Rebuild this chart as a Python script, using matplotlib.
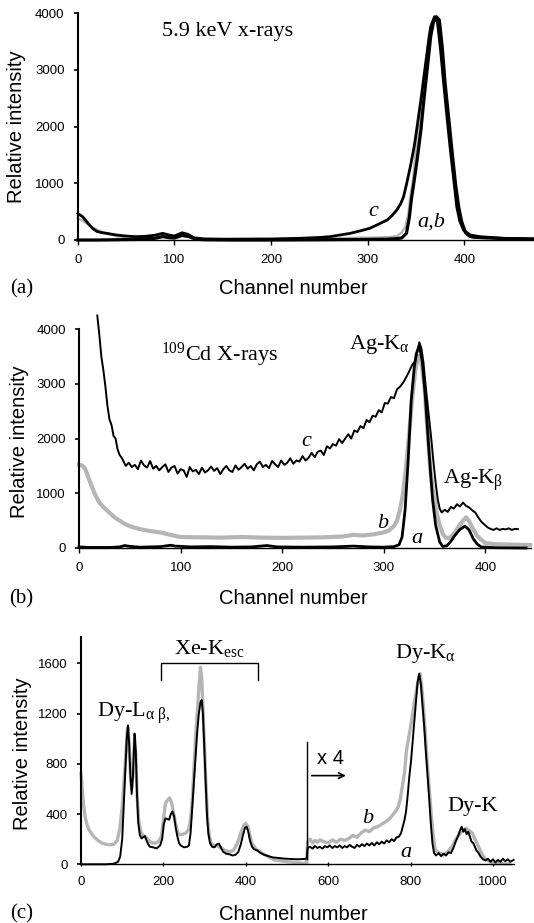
import matplotlib
matplotlib.use('Agg')
from matplotlib import pyplot as plt

plt.rcParams['font.family'] = ['Liberation Sans', 'DejaVu Sans']
plt.rcParams['mathtext.fontset'] = 'custom'
plt.rcParams['mathtext.rm'] = 'Liberation Serif'
# greek letters in the labels are upright in the original
plt.rcParams['mathtext.it'] = 'Liberation Serif'

SERIF = ['Liberation Serif', 'DejaVu Serif']
GREY = '#b5b5b5'

# ---- panel (a): 5.9 keV x-rays ----
a1_ch = [0, 20, 40, 60, 80, 88, 95, 100, 108, 115, 122, 130, 160, 200, 250, 300, 320, 330, 335, 340, 343, 345,
         348, 351, 355, 358, 362, 365, 368, 371, 374, 377, 380, 384, 387, 391, 394, 397, 401, 405, 409, 420, 440, 472]
a1_val = [0, 0, 5, 10, 30, 60, 40, 35, 80, 60, 15, 5, 0, 0, 5, 10, 15, 25, 35, 118, 400, 705,
          1050, 1411, 1950, 2470, 3100, 3585, 3850, 3940, 3880, 3400, 2760, 2100, 1587, 950, 587, 330, 130, 70, 50, 40, 25, 15]
b1_ch = [0, 5, 10, 15, 20, 30, 40, 50, 60, 75, 88, 95, 100, 108, 115, 122, 135, 180, 230, 260, 290, 310, 322, 330,
         335, 339, 342, 344, 347, 349, 352, 356, 360, 363, 366, 369, 372, 375, 378, 382, 385, 389, 392, 395, 399,
         403, 410, 430, 472]
b1_val = [385, 340, 280, 225, 180, 110, 70, 50, 45, 50, 85, 60, 60, 100, 75, 30, 15, 15, 20, 30, 40, 45, 50, 70,
          130, 240, 480, 764, 1100, 1470, 1900, 2470, 3050, 3585, 3820, 3900, 3860, 3500, 2900, 2250, 1750, 1050, 650, 380, 170,
          90, 55, 40, 20]
c1_ch = [0, 5, 10, 15, 20, 25, 30, 40, 50, 60, 70, 80, 88, 94, 100, 108, 114, 120, 130, 150, 200, 230, 250, 261,
         270, 282, 292, 302, 310, 320, 325, 330, 334, 337, 340, 344, 348, 351, 355, 358, 362, 365, 369, 372, 375,
         378.5, 382, 385.4, 389, 392, 395, 399, 406, 416, 440, 472]
c1_val = [470, 412, 310, 210, 150, 130, 118, 88, 70, 59, 65, 85, 118, 90, 70, 128, 100, 40, 20, 15, 18, 30, 45, 59,
          85, 118, 160, 206, 270, 353, 430, 529, 640, 764, 980, 1293, 1650, 2000, 2480, 2880, 3400, 3760, 3940, 3850, 3400,
          2760, 2150, 1587, 1050, 587, 340, 176, 88, 59, 30, 20]

# ---- panel (b): 109Cd X-rays ----
a2_ch = [0, 10, 30, 40, 45, 50, 60, 80, 90, 95, 110, 130, 150, 170, 185, 195, 220, 250, 270, 285, 300, 310, 315,
         318, 321, 324, 327, 330, 332, 335, 338, 341, 344, 348, 351, 355, 358, 362, 366, 370, 375, 380, 384, 388,
         392, 396, 410, 440]
a2_val = [20, 10, 10, 20, 45, 30, 15, 25, 50, 35, 20, 25, 15, 20, 45, 20, 15, 20, 35, 20, 15, 25, 60,
          200, 700, 1600, 2700, 3300, 3550, 3700, 3400, 2750, 1900, 890, 420, 110, 30, 40, 120, 230, 340, 400, 330, 170,
          70, 20, 5, 0]
b2_ch = [0, 3, 6, 10, 15, 20, 25, 30, 35, 40, 45, 50, 55, 60, 70, 80, 90, 100, 120, 140, 160, 180, 200, 220, 240,
         260, 270, 280, 290, 300, 305, 310, 313, 316, 319, 322, 325, 328, 331, 334, 337, 340, 343, 346, 349, 352,
         355, 358, 361, 364, 367, 370, 374, 378, 381, 384, 388, 392, 395, 400, 410, 420, 430, 444]
b2_val = [1520, 1510, 1450, 1250, 1010, 830, 730, 645, 560, 500, 440, 400, 370, 345, 310, 285, 240, 200, 195, 190,
          200, 190, 185, 190, 195, 210, 240, 230, 250, 285, 320, 400, 500, 700, 1000, 1500, 2100, 2750, 3250, 3510,
          3400, 2960, 2150, 1400, 950, 640, 420, 260, 190, 180, 220, 285, 400, 500, 560, 490, 345, 220, 165, 90, 70,
          65, 60, 55]
c2_ch = [18, 20, 22, 24, 26, 28, 30, 32, 34, 36, 38, 40, 42, 44, 46,
         49, 52, 55, 58, 61, 64, 67, 70, 73, 76, 79, 82, 85, 88, 91, 94, 97, 100, 103, 106, 109, 112, 115, 118,
         121, 124, 127, 130, 133, 136, 139, 142, 145, 148, 151, 154, 157, 160, 163, 166, 169, 172, 175, 178, 181,
         184, 187, 190, 193, 196, 199, 202, 205, 208, 211, 214, 217, 220, 223, 226, 229, 232, 235, 238, 241, 244,
         247, 250, 253, 256, 259, 262, 265, 268, 271, 274, 277, 280, 283, 286, 289, 292, 295, 298, 301, 304, 307,
         310, 313, 316, 319, 322, 325, 328, 331, 333, 335, 337, 339, 341, 343, 345, 347, 349, 351, 353, 355, 357,
         360, 363, 366, 369, 372, 375, 378, 381, 384, 387, 390, 393, 396, 399, 402, 405, 408, 411, 414, 417, 420,
         423, 426, 429, 432]
c2_val = [4250, 3900, 3500, 3250, 2950, 2600, 2350, 2250, 2050, 2000, 1800, 1700, 1650, 1580, 1500,
          1560, 1480, 1520, 1440, 1600, 1510, 1470, 1590, 1450, 1500, 1420, 1480, 1530, 1390, 1470, 1500, 1360,
          1440, 1420, 1300, 1480, 1400, 1430, 1350, 1470, 1380, 1420, 1490, 1410, 1460, 1350, 1440, 1500, 1420,
          1390, 1510, 1430, 1480, 1540, 1450, 1500, 1420, 1530, 1580, 1480, 1520, 1460, 1590, 1530, 1480, 1600,
          1520, 1560, 1640, 1540, 1600, 1580, 1680, 1600, 1650, 1740, 1660, 1760, 1780, 1700, 1860, 1820, 1900,
          1870, 1990, 1920, 2000, 2080, 2000, 2150, 2120, 2230, 2190, 2340, 2300, 2420, 2400, 2520, 2480, 2650,
          2640, 2760, 2740, 2900, 2950, 3020, 3120, 3230, 3350, 3420, 3600, 3760, 3650, 3400, 3000, 2650, 2300,
          1950, 1550, 1200, 900, 720, 650, 700, 660, 750, 720, 800, 760, 830, 770, 740, 690, 650, 560, 480, 430,
          380, 350, 330, 360, 330, 350, 340, 360, 330, 350, 345]

# ---- panel (c): Dy ----
a3_ch = [0, 60, 80, 90, 95, 100, 104, 108, 111, 114, 117, 120, 123, 126, 130, 133, 136, 139, 143, 147, 151, 155,
         159, 163, 167, 175, 184, 192, 197, 201, 205, 210, 214, 218, 222, 226, 230, 234, 238, 242, 250, 258, 262,
         266, 270, 274, 278, 282, 286, 290, 293, 296, 299, 303, 306, 309, 313, 318, 324, 330, 335, 340, 345, 352,
         360, 368, 375, 382, 388, 393, 398, 402, 406, 410, 415, 420, 428, 436, 445, 455, 465, 480, 495, 510, 525,
         540, 548, 550, 556, 562, 568, 574, 580, 586, 592, 598, 604, 610, 616, 622, 628, 634, 640, 646, 652, 658,
         664, 670, 676, 682, 688, 694, 700, 706, 712, 718, 724, 730, 736, 742, 748, 754, 760, 766, 772, 777, 781,
         785, 789, 793, 797, 801, 805, 809, 813, 817, 821, 825, 829, 833, 837, 841, 845, 849, 853, 857, 862, 868,
         874, 880, 886, 892, 898, 904, 910, 916, 920, 924, 928, 932, 936, 940, 944, 948, 952, 956, 960, 965, 970,
         976, 982, 988, 994, 1000, 1006, 1012, 1018, 1024, 1030, 1036, 1042, 1050]
a3_val = [0, 0, 5, 20, 60, 200, 480, 775, 1000, 1106, 950, 700, 560, 700, 1040, 900, 550, 330, 230, 206, 215, 225,
          190, 160, 140, 135, 127, 150, 200, 320, 365, 360, 355, 400, 420, 380, 290, 220, 170, 150, 135, 140, 150,
          250, 450, 650, 850, 1050, 1200, 1290, 1308, 1200, 950, 600, 380, 250, 170, 140, 135, 160, 165, 130, 100,
          85, 80, 70, 75, 100, 160, 230, 290, 300, 260, 190, 140, 120, 110, 90, 75, 65, 55, 50, 45, 42, 40,
          42, 45, 130, 140, 125, 145, 130, 140, 125, 145, 135, 150, 130, 145, 135, 150, 130, 145, 135, 155, 140,
          130, 155, 140, 160, 145, 165, 150, 170, 150, 175, 160, 180, 165, 190, 175, 200, 185, 215, 220, 250, 300,
          350, 420, 550, 700, 820, 980, 1150, 1300, 1450, 1516, 1430, 1270, 1100, 900, 720, 530, 330, 170, 90, 70, 90,
          65, 85, 70, 95, 90, 130, 185, 230, 270, 300, 260, 280, 240, 260, 220, 180, 170, 140, 110, 90, 60,
          40, 30, 45, 20, 40, 15, 35, 20, 45, 25, 40, 20, 35]
b3_ch = [0, 3, 6, 10, 15, 20, 30, 40, 50, 60, 70, 80, 88, 94, 100, 104, 108, 112, 114, 117, 120, 123, 126, 130,
         133, 136, 140, 145, 150, 156, 162, 170, 180, 188, 195, 200, 205, 210, 215, 220, 225, 230, 235, 240, 248,
         255, 262, 266, 270, 274, 278, 282, 286, 290, 293, 296, 299, 303, 307, 311, 316, 322, 330, 340, 350, 360,
         370, 380, 388, 395, 400, 405, 410, 415, 425, 440, 455, 470, 485, 500, 520, 540, 548, 550, 556, 562, 568,
         574, 580, 590, 600, 610, 620, 630, 640, 650, 660, 670, 680, 690, 700, 710, 720, 730, 740, 750, 758, 765,
         770, 775, 780, 785, 790, 795, 800, 805, 810, 815, 820, 823, 826, 830, 835, 840, 845, 850, 855, 860, 870,
         880, 890, 900, 910, 920, 928, 935, 942, 950, 958, 965, 972, 980, 990, 1000, 1020, 1040]
b3_val = [722, 600, 480, 378, 310, 272, 225, 193, 170, 160, 155, 160, 190, 280, 458, 650, 828, 1050, 1093, 950, 720,
          600, 720, 1000, 870, 560, 350, 260, 230, 220, 200, 175, 167, 180, 220, 350, 484, 510, 530, 490, 405, 320,
          250, 235, 240, 250, 280, 360, 500, 750, 1000, 1200, 1400, 1569, 1480, 1250, 1000, 650, 380, 230, 167, 150,
          150, 130, 110, 100, 110, 170, 250, 310, 325, 300, 230, 167, 120, 87, 60, 34, 28, 21, 14, 8, 10, 180, 200,
          170, 190, 175, 195, 180, 170, 195, 175, 200, 190, 206, 230, 215, 250, 272, 260, 290, 299, 320, 340, 365,
          400, 430, 458, 520, 620, 722, 907, 1000, 1093, 1200, 1304, 1400, 1489, 1520, 1450, 1304, 1080, 828, 620,
          405, 230, 114, 90, 74, 100, 140, 200, 246, 275, 286, 270, 246, 190, 140, 90, 48, 25, 8, 5, 3]

x_ticks_ab = [0, 100, 200, 300, 400]
y_ticks_ab = [0, 1000, 2000, 3000, 4000]
x_ticks_c = [0, 200, 400, 600, 800, 1000]
y_ticks_c = [0, 400, 800, 1200, 1600]

W, H = 534, 923


def box(left, right, bottom, top):
	# pixel box -> figure fraction
	return [left / W, 1 - bottom / H, (right - left) / W, (bottom - top) / H]


def style_axis(ax, xlim, ylim, xticks, yticks, xdir='out'):
	ax.set_xlim(*xlim)
	ax.set_ylim(*ylim)
	ax.set_xticks(xticks)
	ax.set_yticks(yticks)
	for side in ['top', 'right']:
		ax.spines[side].set_visible(False)
	ax.spines['left'].set_linewidth(1.5)
	ax.spines['bottom'].set_linewidth(1.0)
	ax.spines['left'].set_bounds(yticks[0], yticks[-1])
	ax.tick_params(axis='y', direction='out', length=3, width=1.2, pad=6.5, labelsize=9.5)
	ax.tick_params(axis='x', direction=xdir, length=3.5, width=1.0, pad=6.5, labelsize=9.5)
	ax.patch.set_alpha(0)


fig = plt.figure(figsize=(5.34, 9.23), dpi=100)

# (a)
ax1 = fig.add_axes(box(77.7, 534.1, 240, 13.3))
ax1.plot(b1_ch, b1_val, color=GREY, lw=1.7, clip_on=False)
ax1.plot(a1_ch, a1_val, color='black', lw=2.3, clip_on=False)
ax1.plot(c1_ch, c1_val, color='black', lw=2.0, clip_on=False)
style_axis(ax1, (0, 472), (0, 4000), x_ticks_ab, y_ticks_ab)
ax1.text(155, 3674, '5.9 keV x-rays', family=SERIF, fontsize=16, ha='center', va='center')
ax1.text(306, 500, 'c', family=SERIF, style='italic', fontsize=16, ha='center', va='center')
ax1.text(366, 323, 'a,b', family=SERIF, style='italic', fontsize=16, ha='center', va='center')

# (b)
ax2 = fig.add_axes(box(79, 531.1, 548, 315))
ax2.plot(b2_ch, b2_val, color=GREY, lw=3.0, clip_on=False)
ax2.plot(a2_ch, a2_val, color='black', lw=2.0, clip_on=False)
ax2.plot(c2_ch, c2_val, color='black', lw=1.4, clip_on=False)
style_axis(ax2, (0, 445), (0, 4260), x_ticks_ab, y_ticks_ab)
ax2.text(138, 3537, '$^{109}$Cd X-rays', family=SERIF, fontsize=16, ha='center', va='center')
ax2.text(296, 3724, r'Ag-K$_{\alpha}$', family=SERIF, fontsize=16, ha='center', va='center')
ax2.text(388, 1234, r'Ag-K$_{\beta}$', family=SERIF, fontsize=16, ha='center', va='center')
ax2.text(224, 1950, 'c', family=SERIF, style='italic', fontsize=16, ha='center', va='center')
ax2.text(299, 455, 'b', family=SERIF, style='italic', fontsize=16, ha='center', va='center')
ax2.text(333, 175, 'a', family=SERIF, style='italic', fontsize=16, ha='center', va='center')

# (c)
ax3 = fig.add_axes(box(81, 514.4, 864.3, 636.7))
ax3.plot(b3_ch, b3_val, color=GREY, lw=2.4, clip_on=False)
ax3.plot(a3_ch, a3_val, color='black', lw=1.4, clip_on=False)
style_axis(ax3, (0, 1052), (0, 1812), x_ticks_c, y_ticks_c, xdir='inout')
ax3.spines['left'].set_bounds(0, 1812)
ax3.text(38, 1202, r'Dy-L$_{\alpha\ \beta,}$', family=SERIF, fontsize=16, ha='left', va='center')
ax3.text(313, 1720, r'Xe-K$_{\rm esc}$', family=SERIF, fontsize=16, ha='center', va='center')
ax3.plot([194, 194, 429, 429], [1467, 1600, 1600, 1467], color='black', lw=1.0)
ax3.text(836, 1680, r'Dy-K$_{\alpha}$', family=SERIF, fontsize=16, ha='center', va='center')
ax3.text(950, 459, 'Dy-K', family=SERIF, fontsize=16, ha='center', va='center')
ax3.plot([549, 549], [40, 976], color='black', lw=1.0)
ax3.text(606, 844, 'x 4', fontsize=14.5, ha='center', va='center')
ax3.annotate('', xy=(643, 706), xytext=(560, 706),
             arrowprops=dict(arrowstyle='->', lw=1.2, color='black', shrinkA=0, shrinkB=0))
ax3.text(697, 366, 'b', family=SERIF, style='italic', fontsize=16, ha='center', va='center')
ax3.text(789, 93, 'a', family=SERIF, style='italic', fontsize=16, ha='center', va='center')

# axis titles and panel letters, placed in pixels
for lx, ly, yx, yy, tag in [(293.8, 289, 16.7, 127, '(a)'), (292.9, 599, 19.5, 442, '(b)'), (292.9, 914, 23, 754, '(c)')]:
	fig.text(lx / W, 1 - ly / H, 'Channel number', fontsize=14.5, ha='center', va='center')
	fig.text(yx / W, 1 - yy / H, 'Relative intensity', fontsize=14.5, rotation=90, ha='center', va='center')
	fig.text(21.5 / W, 1 - ly / H, tag, family=SERIF, fontsize=15, ha='center', va='center')

fig.savefig('out.png', dpi=100)
